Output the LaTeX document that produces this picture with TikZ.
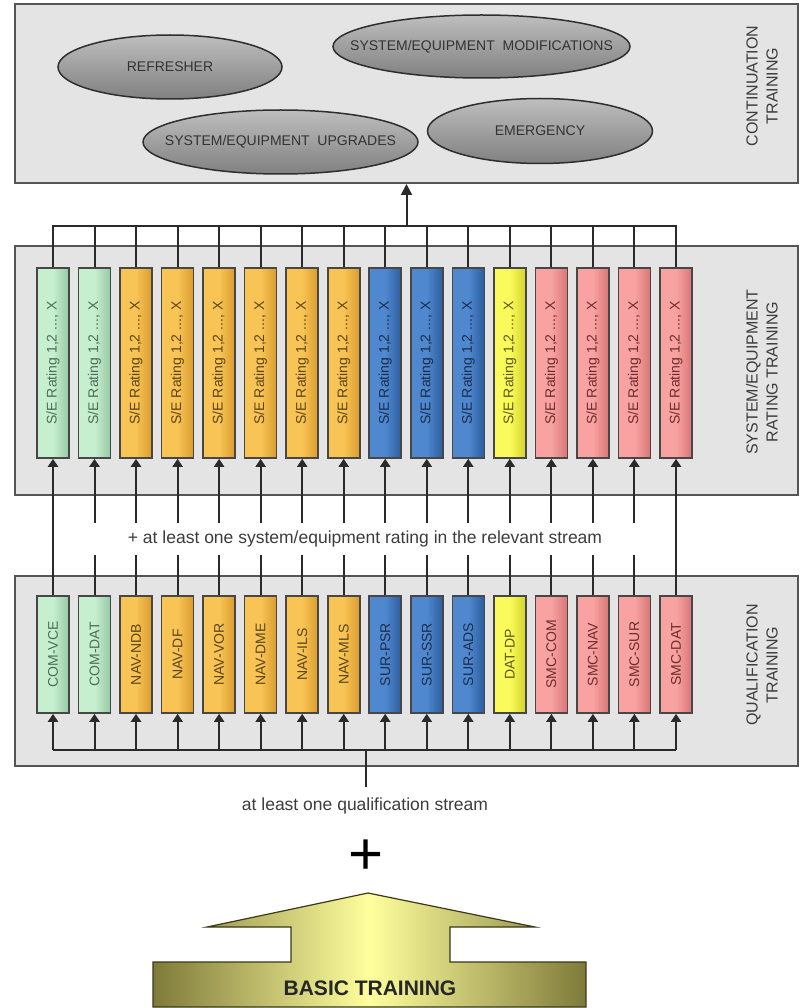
\documentclass[tikz,border=0pt]{standalone}
\usepackage{fontspec}
\setmainfont{Liberation Sans}
\usetikzlibrary{shapes.geometric,arrows.meta}
\definecolor{panelfill}{HTML}{E4E4E4}
\definecolor{panelline}{HTML}{555555}
\definecolor{wirec}{HTML}{2A2A2A}
\definecolor{ovaltop}{HTML}{BEBEBE}
\definecolor{ovalbot}{HTML}{808080}
\definecolor{ovalline}{HTML}{2E2E2E}
\definecolor{ovaltext}{HTML}{333333}
\definecolor{labeltext}{HTML}{3C3C3C}
\definecolor{comfill}{HTML}{C6EFD0}
\definecolor{comedge}{HTML}{96C8A2}
\definecolor{comtext}{HTML}{4C6E54}
\definecolor{navfill}{HTML}{F8C455}
\definecolor{navedge}{HTML}{D99C2D}
\definecolor{navtext}{HTML}{5C4418}
\definecolor{surfill}{HTML}{4F88CE}
\definecolor{suredge}{HTML}{2C5C9E}
\definecolor{surtext}{HTML}{1C2C4C}
\definecolor{datfill}{HTML}{FAFA5C}
\definecolor{datedge}{HTML}{D4D42C}
\definecolor{dattext}{HTML}{5A5A1E}
\definecolor{smcfill}{HTML}{F8A2A2}
\definecolor{smcedge}{HTML}{D87676}
\definecolor{smctext}{HTML}{6E2C2C}
\definecolor{baseedge}{HTML}{7E7A3A}
\definecolor{basemid}{HTML}{FFFF9E}
\definecolor{baseline}{HTML}{3A3818}
\begin{document}
\begin{tikzpicture}[x=1pt,y=1pt]
\tikzstyle{every node}+=[inner sep=0pt]
\tikzstyle{panel}=[draw=panelline, line width=2, fill=panelfill, minimum width=783]
\tikzstyle{oval}=[ellipse, draw=ovalline, line width=1.5, top color=ovaltop, bottom color=ovalbot, text=ovaltext, font=\fontsize{14}{16}\selectfont]
\tikzstyle{sidelabel}=[rotate=90, align=center, text=labeltext, font=\fontsize{16}{20}\selectfont]
\tikzstyle{rbar}=[draw=black!72, line width=1.6, minimum width=32, minimum height=190, font=\fontsize{14}{16}\selectfont]
\tikzstyle{qbar}=[draw=black!72, line width=1.6, minimum width=32, minimum height=117, font=\fontsize{14}{16}\selectfont]
\tikzstyle{com}=[left color=comfill, right color=comedge, middle color=comfill, text=comtext]
\tikzstyle{nav}=[left color=navfill, right color=navedge, middle color=navfill, text=navtext]
\tikzstyle{sur}=[left color=surfill, right color=suredge, middle color=surfill, text=surtext]
\tikzstyle{dat}=[left color=datfill, right color=datedge, middle color=datfill, text=dattext]
\tikzstyle{smc}=[left color=smcfill, right color=smcedge, middle color=smcfill, text=smctext]
\tikzstyle{wire}=[draw=wirec, line width=2]
\tikzstyle{into}=[-{Triangle[length=8pt,width=10pt]}]
\tikzstyle{note}=[text=labeltext, font=\fontsize{17.5}{20}\selectfont]
\useasboundingbox (0,0) rectangle (801,-1008);
\node [panel, minimum height=179] (cont) at (406.5,-93.5) {};
\node [panel, minimum height=249] (rate) at (406.5,-370.5) {};
\node [panel, minimum height=190] (qual) at (406.5,-671) {};
\node [oval, minimum width=224, minimum height=64] (refr) at (170,-67) {\makebox[0pt]{REFRESHER}};
\node [oval, minimum width=297, minimum height=63] (mods) at (481.5,-46.5) {\makebox[0pt]{SYSTEM/EQUIPMENT\ \ MODIFICATIONS}};
\node [oval, minimum width=275, minimum height=64] (upgr) at (280.5,-142) {\makebox[0pt]{SYSTEM/EQUIPMENT\ \ UPGRADES}};
\node [oval, minimum width=225, minimum height=65] (emer) at (540,-131) {\makebox[0pt]{EMERGENCY}};
\node [sidelabel] (contlabel) at (762,-86) {CONTINUATION\\TRAINING};
\node [sidelabel] (ratelabel) at (762,-372) {SYSTEM/EQUIPMENT\\RATING TRAINING};
\node [sidelabel] (quallabel) at (762,-665) {QUALIFICATION\\TRAINING};
\node [rbar, com] (r1) at (53,-363) {\rotatebox{90}{S/E Rating 1,2 ..., X}};
\node [rbar, com] (r2) at (94.5,-363) {\rotatebox{90}{S/E Rating 1,2 ..., X}};
\node [rbar, nav] (r3) at (136,-363) {\rotatebox{90}{S/E Rating 1,2 ..., X}};
\node [rbar, nav] (r4) at (177.6,-363) {\rotatebox{90}{S/E Rating 1,2 ..., X}};
\node [rbar, nav] (r5) at (219.1,-363) {\rotatebox{90}{S/E Rating 1,2 ..., X}};
\node [rbar, nav] (r6) at (260.6,-363) {\rotatebox{90}{S/E Rating 1,2 ..., X}};
\node [rbar, nav] (r7) at (302.2,-363) {\rotatebox{90}{S/E Rating 1,2 ..., X}};
\node [rbar, nav] (r8) at (343.7,-363) {\rotatebox{90}{S/E Rating 1,2 ..., X}};
\node [rbar, sur] (r9) at (385.2,-363) {\rotatebox{90}{S/E Rating 1,2 ..., X}};
\node [rbar, sur] (r10) at (426.8,-363) {\rotatebox{90}{S/E Rating 1,2 ..., X}};
\node [rbar, sur] (r11) at (468.3,-363) {\rotatebox{90}{S/E Rating 1,2 ..., X}};
\node [rbar, dat] (r12) at (509.8,-363) {\rotatebox{90}{S/E Rating 1,2 ..., X}};
\node [rbar, smc] (r13) at (551.4,-363) {\rotatebox{90}{S/E Rating 1,2 ..., X}};
\node [rbar, smc] (r14) at (592.9,-363) {\rotatebox{90}{S/E Rating 1,2 ..., X}};
\node [rbar, smc] (r15) at (634.4,-363) {\rotatebox{90}{S/E Rating 1,2 ..., X}};
\node [rbar, smc] (r16) at (676,-363) {\rotatebox{90}{S/E Rating 1,2 ..., X}};
\node [qbar, com] (q1) at (53,-654.5) {\rotatebox{90}{COM-VCE}};
\node [qbar, com] (q2) at (94.5,-654.5) {\rotatebox{90}{COM-DAT}};
\node [qbar, nav] (q3) at (136,-654.5) {\rotatebox{90}{NAV-NDB}};
\node [qbar, nav] (q4) at (177.6,-654.5) {\rotatebox{90}{NAV-DF}};
\node [qbar, nav] (q5) at (219.1,-654.5) {\rotatebox{90}{NAV-VOR}};
\node [qbar, nav] (q6) at (260.6,-654.5) {\rotatebox{90}{NAV-DME}};
\node [qbar, nav] (q7) at (302.2,-654.5) {\rotatebox{90}{NAV-ILS}};
\node [qbar, nav] (q8) at (343.7,-654.5) {\rotatebox{90}{NAV-MLS}};
\node [qbar, sur] (q9) at (385.2,-654.5) {\rotatebox{90}{SUR-PSR}};
\node [qbar, sur] (q10) at (426.8,-654.5) {\rotatebox{90}{SUR-SSR}};
\node [qbar, sur] (q11) at (468.3,-654.5) {\rotatebox{90}{SUR-ADS}};
\node [qbar, dat] (q12) at (509.8,-654.5) {\rotatebox{90}{DAT-DP}};
\node [qbar, smc] (q13) at (551.4,-654.5) {\rotatebox{90}{SMC-COM}};
\node [qbar, smc] (q14) at (592.9,-654.5) {\rotatebox{90}{SMC-NAV}};
\node [qbar, smc] (q15) at (634.4,-654.5) {\rotatebox{90}{SMC-SUR}};
\node [qbar, smc] (q16) at (676,-654.5) {\rotatebox{90}{SMC-DAT}};
\coordinate (rbus) at (406.5,-226);
\coordinate (qbus) at (366,-750);
\coordinate (stub) at (366,-787);
\draw [wire] (r1.north) -- (r1.north |- rbus) -- (r16.north |- rbus) -- (r16.north);
\draw [wire] (r2.north) -- (r2.north |- rbus);
\draw [wire] (r3.north) -- (r3.north |- rbus);
\draw [wire] (r4.north) -- (r4.north |- rbus);
\draw [wire] (r5.north) -- (r5.north |- rbus);
\draw [wire] (r6.north) -- (r6.north |- rbus);
\draw [wire] (r7.north) -- (r7.north |- rbus);
\draw [wire] (r8.north) -- (r8.north |- rbus);
\draw [wire] (r9.north) -- (r9.north |- rbus);
\draw [wire] (r10.north) -- (r10.north |- rbus);
\draw [wire] (r11.north) -- (r11.north |- rbus);
\draw [wire] (r12.north) -- (r12.north |- rbus);
\draw [wire] (r13.north) -- (r13.north |- rbus);
\draw [wire] (r14.north) -- (r14.north |- rbus);
\draw [wire] (r15.north) -- (r15.north |- rbus);
\draw [wire, -{Triangle[length=11pt,width=11pt]}] (rbus) -- (cont.south);
\draw [wire, into] (q1.north) -- (r1.south);
\draw [wire, into] (q2.north) -- (r2.south);
\draw [wire, into] (q3.north) -- (r3.south);
\draw [wire, into] (q4.north) -- (r4.south);
\draw [wire, into] (q5.north) -- (r5.south);
\draw [wire, into] (q6.north) -- (r6.south);
\draw [wire, into] (q7.north) -- (r7.south);
\draw [wire, into] (q8.north) -- (r8.south);
\draw [wire, into] (q9.north) -- (r9.south);
\draw [wire, into] (q10.north) -- (r10.south);
\draw [wire, into] (q11.north) -- (r11.south);
\draw [wire, into] (q12.north) -- (r12.south);
\draw [wire, into] (q13.north) -- (r13.south);
\draw [wire, into] (q14.north) -- (r14.south);
\draw [wire, into] (q15.north) -- (r15.south);
\draw [wire, into] (q16.north) -- (r16.south);
\node [note, fill=white, minimum width=588, minimum height=32] (ratenote) at (365,-539) {+ at least one system/equipment rating in the relevant stream};
\draw [wire] (q1.south |- qbus) -- (q16.south |- qbus);
\draw [wire, into] (q1.south |- qbus) -- (q1.south);
\draw [wire, into] (q2.south |- qbus) -- (q2.south);
\draw [wire, into] (q3.south |- qbus) -- (q3.south);
\draw [wire, into] (q4.south |- qbus) -- (q4.south);
\draw [wire, into] (q5.south |- qbus) -- (q5.south);
\draw [wire, into] (q6.south |- qbus) -- (q6.south);
\draw [wire, into] (q7.south |- qbus) -- (q7.south);
\draw [wire, into] (q8.south |- qbus) -- (q8.south);
\draw [wire, into] (q9.south |- qbus) -- (q9.south);
\draw [wire, into] (q10.south |- qbus) -- (q10.south);
\draw [wire, into] (q11.south |- qbus) -- (q11.south);
\draw [wire, into] (q12.south |- qbus) -- (q12.south);
\draw [wire, into] (q13.south |- qbus) -- (q13.south);
\draw [wire, into] (q14.south |- qbus) -- (q14.south);
\draw [wire, into] (q15.south |- qbus) -- (q15.south);
\draw [wire, into] (q16.south |- qbus) -- (q16.south);
\draw [wire] (qbus) -- (stub);
\node [note] (qualnote) at (365,-806) {at least one qualification stream};
\node [font=\fontsize{60}{60}\selectfont] (plus) at (366,-857) {+};
\draw [draw=baseline, line width=1.2, left color=baseedge, right color=baseedge, middle color=basemid] (153,-1007) -- (153,-962) -- (291,-962) -- (291,-927) -- (207,-927) -- (368,-893) -- (535,-927) -- (450,-927) -- (450,-962) -- (586,-962) -- (586,-1007) -- cycle;
\node [font=\fontsize{21}{24}\bfseries, text=black!85] (basic) at (370,-988) {BASIC TRAINING};
\end{tikzpicture}
\end{document}
